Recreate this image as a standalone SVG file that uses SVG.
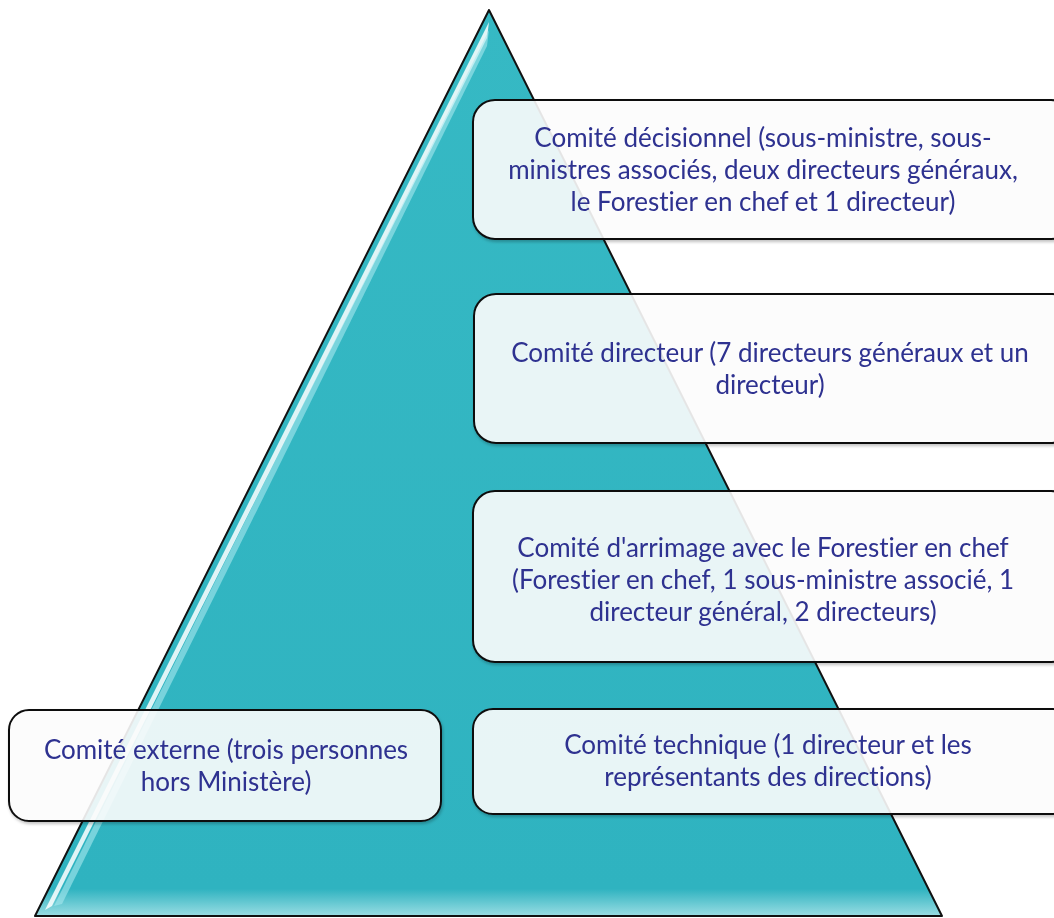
<svg xmlns="http://www.w3.org/2000/svg" width="1054" height="918" viewBox="0 0 1054 918">
<defs>
<linearGradient id="tri" x1="0" y1="0" x2="0" y2="1">
<stop offset="0" stop-color="#36B9C4"/>
<stop offset="0.97" stop-color="#2FB3C0"/>
<stop offset="1" stop-color="#9ADDE3"/>
</linearGradient>
<filter id="sh" x="-5%" y="-5%" width="110%" height="115%">
<feDropShadow dx="1" dy="2" stdDeviation="1.5" flood-color="#000" flood-opacity="0.25"/>
</filter>
</defs>
<style>
.box{fill:#FFFFFF;fill-opacity:0.88;stroke:#111;stroke-width:2}
.t{font-family:Lato,"Open Sans","Liberation Sans",sans-serif;font-size:26px;fill:#2E3190;text-anchor:middle;font-variant-ligatures:none;font-feature-settings:"liga" 0}
</style>
<g id="pyramid">
<polygon points="489,10 35,916 942,916" fill="url(#tri)" stroke="#111" stroke-width="2" stroke-linejoin="round"/>
<polygon points="489,22 487,38 52,906 45,910" fill="#FFFFFF" opacity="0.85"/>
<polygon points="489,30 487,46 62,904 54,906" fill="#A8E8EE" opacity="0.6"/>
</g>
<g id="box-decisionnel" filter="url(#sh)">
<rect class="box" x="473" y="100" width="600" height="139" rx="22"/>
<text class="t" x="763" y="147">Comité décisionnel (sous-ministre, sous-</text>
<text class="t" x="763" y="179">ministres associés, deux directeurs généraux,</text>
<text class="t" x="763" y="211">le Forestier en chef et 1 directeur)</text>
</g>
<g id="box-directeur" filter="url(#sh)">
<rect class="box" x="474" y="294" width="600" height="149" rx="22"/>
<text class="t" x="770" y="362">Comité directeur (7 directeurs généraux et un</text>
<text class="t" x="770" y="394">directeur)</text>
</g>
<g id="box-arrimage" filter="url(#sh)">
<rect class="box" x="473" y="491" width="600" height="171" rx="22"/>
<text class="t" x="763" y="557">Comité d'arrimage avec le Forestier en chef</text>
<text class="t" x="763" y="589">(Forestier en chef, 1 sous-ministre associé, 1</text>
<text class="t" x="763" y="621">directeur général, 2 directeurs)</text>
</g>
<g id="box-technique" filter="url(#sh)">
<rect class="box" x="473" y="709" width="600" height="105" rx="20"/>
<text class="t" x="768" y="754">Comité technique (1 directeur et les</text>
<text class="t" x="768" y="786">représentants des directions)</text>
</g>
<g id="box-externe" filter="url(#sh)">
<rect class="box" x="9" y="710" width="432" height="111" rx="20"/>
<text class="t" x="226" y="759">Comité externe (trois personnes</text>
<text class="t" x="226" y="791">hors Ministère)</text>
</g>
<g id="connectors"/>
</svg>
